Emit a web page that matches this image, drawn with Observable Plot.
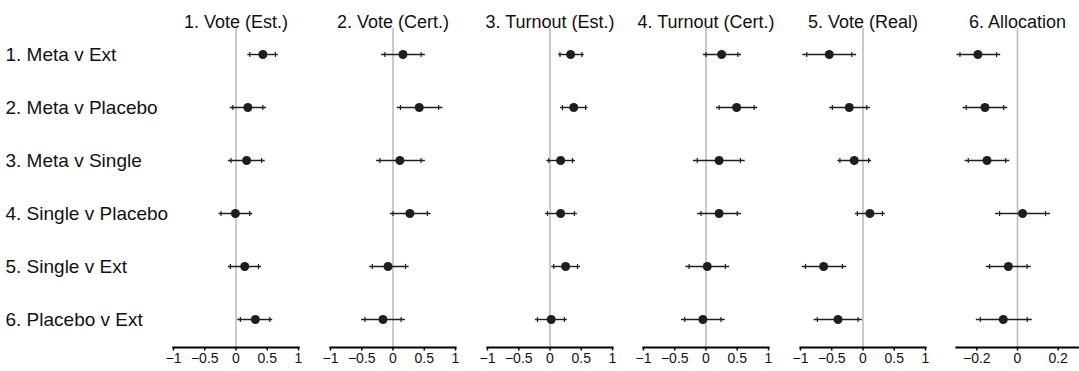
<!DOCTYPE html>
<html>
<head>
<meta charset="utf-8">
<script src="https://cdn.jsdelivr.net/npm/d3@7"></script>
<script src="https://cdn.jsdelivr.net/npm/@observablehq/plot@0.6"></script>
<style>
  body { margin: 0; background: #fff; }
  #chart { position: relative; width: 1079px; height: 371px; font-family: "Liberation Sans", Arial, sans-serif; }
  #chart svg { position: absolute; top: 0; overflow: visible; }
</style>
</head>
<body>
<div id="chart"></div>
<script>
const panels = ["1. Vote (Est.)", "2. Vote (Cert.)", "3. Turnout (Est.)", "4. Turnout (Cert.)", "5. Vote (Real)", "6. Allocation"];
const rows = ["1. Meta v Ext", "2. Meta v Placebo", "3. Meta v Single", "4. Single v Placebo", "5. Single v Ext", "6. Placebo v Ext"];

// point estimates, per panel (rows in order)
const est = [
  [0.43, 0.19, 0.17, -0.01, 0.14, 0.31],
  [0.16, 0.42, 0.11, 0.27, -0.08, -0.16],
  [0.33, 0.38, 0.17, 0.17, 0.25, 0.02],
  [0.25, 0.49, 0.21, 0.21, 0.02, -0.05],
  [-0.54, -0.22, -0.14, 0.11, -0.63, -0.40],
  [-0.195, -0.16, -0.15, 0.025, -0.045, -0.07]
];
// outer interval (line ends)
const lo95 = [
  [0.18, -0.10, -0.13, -0.28, -0.13, 0.02],
  [-0.19, 0.06, -0.27, -0.05, -0.38, -0.51],
  [0.13, 0.16, -0.06, -0.08, 0.02, -0.24],
  [-0.05, 0.16, -0.21, -0.14, -0.33, -0.40],
  [-0.97, -0.54, -0.41, -0.13, -0.98, -0.79],
  [-0.30, -0.27, -0.26, -0.11, -0.155, -0.205]
];
const hi95 = [
  [0.67, 0.48, 0.46, 0.26, 0.40, 0.58],
  [0.51, 0.79, 0.51, 0.60, 0.25, 0.19],
  [0.54, 0.60, 0.40, 0.43, 0.48, 0.27],
  [0.56, 0.82, 0.62, 0.56, 0.37, 0.30],
  [-0.11, 0.11, 0.13, 0.35, -0.27, -0.02],
  [-0.085, -0.05, -0.04, 0.16, 0.065, 0.07]
];
// inner interval (small tick marks)
const lo90 = [
  [0.22, -0.05, -0.08, -0.24, -0.09, 0.07],
  [-0.13, 0.12, -0.21, 0.00, -0.33, -0.45],
  [0.16, 0.20, -0.02, -0.04, 0.06, -0.20],
  [0.00, 0.21, -0.14, -0.08, -0.27, -0.34],
  [-0.90, -0.49, -0.37, -0.09, -0.92, -0.73],
  [-0.283, -0.252, -0.242, -0.088, -0.137, -0.183]
];
const hi90 = [
  [0.63, 0.43, 0.41, 0.22, 0.36, 0.54],
  [0.45, 0.73, 0.45, 0.55, 0.20, 0.13],
  [0.51, 0.57, 0.36, 0.39, 0.44, 0.23],
  [0.51, 0.77, 0.55, 0.50, 0.31, 0.24],
  [-0.18, 0.06, 0.09, 0.31, -0.33, -0.08],
  [-0.103, -0.068, -0.058, 0.138, 0.047, 0.048]
];

const xDomains = [[-1, 1], [-1, 1], [-1, 1], [-1, 1], [-1, 1], [-0.3, 0.3]];
const xTicks = [
  [-1, -0.5, 0, 0.5, 1], [-1, -0.5, 0, 0.5, 1], [-1, -0.5, 0, 0.5, 1],
  [-1, -0.5, 0, 0.5, 1], [-1, -0.5, 0, 0.5, 1], [-0.2, 0, 0.2]
];

const font = "'Liberation Sans', Arial, sans-serif";
const vtick = { draw(ctx) { ctx.moveTo(0, -2.6); ctx.lineTo(0, 2.6); } };
const fmt = d => (d < 0 ? "\u2212" : "") + String(Math.abs(d));

// layout of each panel: [svg left, width, marginLeft, marginRight]
const layout = [
  [0, 314, 173, 16],
  [314, 157, 16, 16],
  [471, 157, 16, 16],
  [627, 157, 16, 16],
  [784, 157, 16, 16],
  [940, 139, 16, 1]
];

const chart = document.getElementById("chart");

panels.forEach((title, p) => {
  const data = rows.map((r, i) => ({
    row: r, est: est[p][i], lo: lo95[p][i], hi: hi95[p][i], lo90: lo90[p][i], hi90: hi90[p][i]
  }));
  const [left, width, ml, mr] = layout[p];
  const marks = [
    Plot.ruleX([0], { stroke: "#bdbdbd", strokeWidth: 1.6 }),
    Plot.link(data, { x1: "lo", x2: "hi", y1: "row", y2: "row", stroke: "#1e1e1e", strokeWidth: 1.4 }),
    Plot.dot(data, { x: "lo90", y: "row", symbol: vtick, stroke: "#1e1e1e", strokeWidth: 1.2, r: 3 }),
    Plot.dot(data, { x: "hi90", y: "row", symbol: vtick, stroke: "#1e1e1e", strokeWidth: 1.2, r: 3 }),
    Plot.dot(data, { x: "est", y: "row", r: 4.5, fill: "#1e1e1e", stroke: "none" }),
    Plot.frame({ anchor: "bottom", stroke: "#000", strokeWidth: 2.2 }),
    Plot.axisX({ ticks: xTicks[p], tickFormat: fmt, tickSize: 3.5, tickPadding: 2, fontSize: 14, strokeWidth: 1.5, fill: "#111" }),
    Plot.text([title], { frameAnchor: "top", dy: -13, fontSize: 18, fill: "#111" })
  ];
  if (p === 0) {
    marks.push(Plot.text(rows, { y: d => d, frameAnchor: "left", dx: -168, textAnchor: "start", fontSize: 19, fill: "#111" }));
  }
  const svg = Plot.plot({
    width, height: 371,
    marginLeft: ml, marginRight: mr, marginTop: 28, marginBottom: 24,
    style: { fontFamily: font, background: "transparent", overflow: "visible" },
    x: { domain: xDomains[p], label: null },
    y: { type: "point", domain: rows, range: [54, 319], padding: 0, axis: null },
    marks
  });
  svg.style.left = left + "px";
  chart.appendChild(svg);
});
</script>
</body>
</html>
